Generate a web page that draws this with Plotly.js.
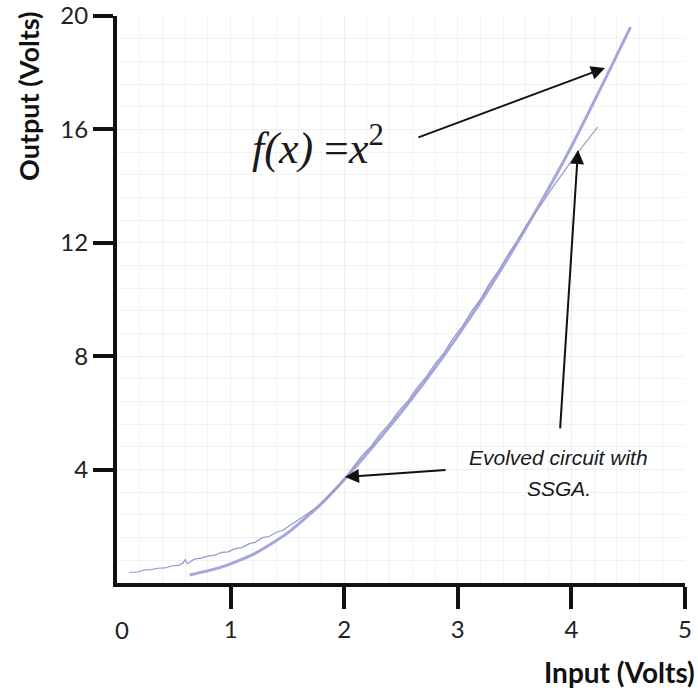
<!DOCTYPE html>
<html>
<head>
<meta charset="utf-8">
<script src="https://cdn.plot.ly/plotly-3.0.1.min.js"></script>
<style>
  html, body { margin: 0; padding: 0; background: #ffffff; }
  #chart { width: 698px; height: 690px; }
</style>
</head>
<body>
<div id="chart"></div>
<script>
// Ideal squaring function f(x)=x^2 as drawn (Input volts, Output volts)
var idealX = [0.64, 0.91, 1.20, 1.50, 1.79, 2.00, 2.25, 2.55, 2.84, 3.13, 3.43, 3.72, 3.99, 4.32, 4.52];
var idealY = [0.28, 0.55, 1.01, 1.76, 2.76, 3.65, 4.80, 6.27, 7.81, 9.49, 11.38, 13.35, 15.32, 17.96, 19.61];

// Evolved circuit with SSGA (slightly stepped measured response)
var evolvedX = [0.11, 0.18, 0.24, 0.30, 0.36, 0.42, 0.48, 0.54, 0.58, 0.60, 0.62, 0.68, 0.74, 0.80, 0.86, 0.92, 0.98, 1.04, 1.10, 1.16,
                1.22, 1.28, 1.34, 1.40, 1.46, 1.52, 1.60, 1.68, 1.76, 1.84, 1.92, 2.00, 2.08, 2.16, 2.24, 2.32, 2.40, 2.48, 2.56, 2.64,
                2.72, 2.80, 2.88, 2.96, 3.04, 3.12, 3.20, 3.28, 3.36, 3.44, 3.52, 3.60, 3.68, 3.76, 3.84, 3.92, 4.00, 4.08, 4.16, 4.23];
var evolvedY = [0.38, 0.38, 0.46, 0.47, 0.52, 0.53, 0.60, 0.62, 0.70, 0.82, 0.68, 0.84, 0.88, 0.95, 0.98, 1.08, 1.10, 1.21, 1.25, 1.38,
                1.44, 1.60, 1.64, 1.78, 1.86, 2.02, 2.22, 2.45, 2.68, 2.98, 3.28, 3.62, 4.10, 4.50, 4.84, 5.28, 5.62, 6.06, 6.41, 6.88,
                7.26, 7.73, 8.13, 8.64, 9.05, 9.57, 10.01, 10.57, 11.02, 11.57, 12.05, 12.60, 13.04, 13.50, 13.98, 14.45, 14.88, 15.30, 15.70, 16.08];

// Axis ticks
var xTickVals = [1, 2, 3, 4, 5];
var xTickText = ['1', '2', '3', '4', '5'];
var yTickVals = [4, 8, 12, 16, 20];
var yTickText = ['4', '8', '12', '16', '20'];

// Text labels
var formulaText = '<i>f(x)</i> =<i>x</i><sup>2</sup>';
var evolvedLabel1 = 'Evolved circuit with';
var evolvedLabel2 = 'SSGA.';
var xTitle = 'Input (Volts)';
var yTitle = 'Output (Volts)';

var traces = [
  {
    x: idealX, y: idealY, type: 'scatter', mode: 'lines',
    line: { color: '#a4a6de', width: 3, shape: 'spline', smoothing: 0.6 },
    hoverinfo: 'skip', showlegend: false
  },
  {
    x: evolvedX, y: evolvedY, type: 'scatter', mode: 'lines',
    line: { color: '#9698cb', width: 1.2, shape: 'linear' },
    hoverinfo: 'skip', showlegend: false
  }
];

var arrowStyle = { showarrow: true, arrowhead: 2, arrowsize: 1.4, arrowwidth: 2, arrowcolor: '#111111',
                   axref: 'x', ayref: 'y', xref: 'x', yref: 'y', text: '', standoff: 0, startstandoff: 0 };

function arrow(x0, y0, x1, y1) {
  return Object.assign({}, arrowStyle, { ax: x0, ay: y0, x: x1, y: y1 });
}

var annotations = [
  arrow(2.64, 15.70, 4.296, 18.17),
  arrow(3.90, 5.40, 4.058, 15.27),
  arrow(2.905, 3.99, 2.007, 3.74),
  { x: 1.77, y: 15.42, xref: 'x', yref: 'y', text: formulaText, showarrow: false,
    font: { family: 'Liberation Serif', size: 44, color: '#1a1a1a' }, xanchor: 'center', yanchor: 'middle' },
  { x: 3.89, y: 4.41, xref: 'x', yref: 'y', text: '<i>' + evolvedLabel1 + '</i>', showarrow: false,
    font: { family: 'Liberation Sans', size: 21, color: '#1a1a1a' }, xanchor: 'center', yanchor: 'middle' },
  { x: 3.89, y: 3.35, xref: 'x', yref: 'y', text: '<i>' + evolvedLabel2 + '</i>', showarrow: false,
    font: { family: 'Liberation Sans', size: 21, color: '#1a1a1a' }, xanchor: 'center', yanchor: 'middle' },
  { x: 0, y: -0.082, xref: 'x', yref: 'paper', text: '0', showarrow: false, xshift: 5,
    font: { family: 'Lato', size: 24, color: '#222222' }, xanchor: 'center', yanchor: 'middle' },
  { x: 1.021, y: -0.157, xref: 'paper', yref: 'paper', text: '<b>' + xTitle + '</b>', showarrow: false,
    font: { family: 'Lato', size: 28, color: '#111111' }, xanchor: 'right', yanchor: 'middle' },
  { x: -0.155, y: 0.859, xref: 'paper', yref: 'paper', text: '<b>' + yTitle + '</b>', showarrow: false, textangle: -90,
    font: { family: 'Lato', size: 27, color: '#111111' }, xanchor: 'center', yanchor: 'middle' }
];

var layout = {
  width: 698, height: 690,
  margin: { l: 117, r: 13, t: 16, b: 107, pad: 0 },
  paper_bgcolor: '#ffffff', plot_bgcolor: '#ffffff',
  showlegend: false,
  xaxis: {
    range: [0, 5], tickmode: 'array', tickvals: xTickVals, ticktext: xTickText,
    showline: true, linecolor: '#111111', linewidth: 4, mirror: false,
    ticks: 'outside', ticklen: 22, tickwidth: 4, tickcolor: '#111111',
    tickfont: { family: 'Lato', size: 24, color: '#222222' },
    showgrid: true, gridcolor: '#efefef', gridwidth: 1, zeroline: false,
    minor: { dtick: 0.2, showgrid: true, gridcolor: '#f2f2f2', gridwidth: 1 },
    fixedrange: true
  },
  yaxis: {
    range: [0, 20], tickmode: 'array', tickvals: yTickVals, ticktext: yTickText,
    showline: true, linecolor: '#111111', linewidth: 4, mirror: false,
    ticks: 'outside', ticklen: 20, tickwidth: 4, tickcolor: '#111111',
    tickfont: { family: 'Lato', size: 24, color: '#222222' },
    showgrid: true, gridcolor: '#efefef', gridwidth: 1, zeroline: false,
    minor: { dtick: 0.8, showgrid: true, gridcolor: '#f2f2f2', gridwidth: 1 },
    fixedrange: true
  },
  annotations: annotations
};

Plotly.newPlot('chart', traces, layout, { staticPlot: true, displayModeBar: false });
</script>
</body>
</html>
